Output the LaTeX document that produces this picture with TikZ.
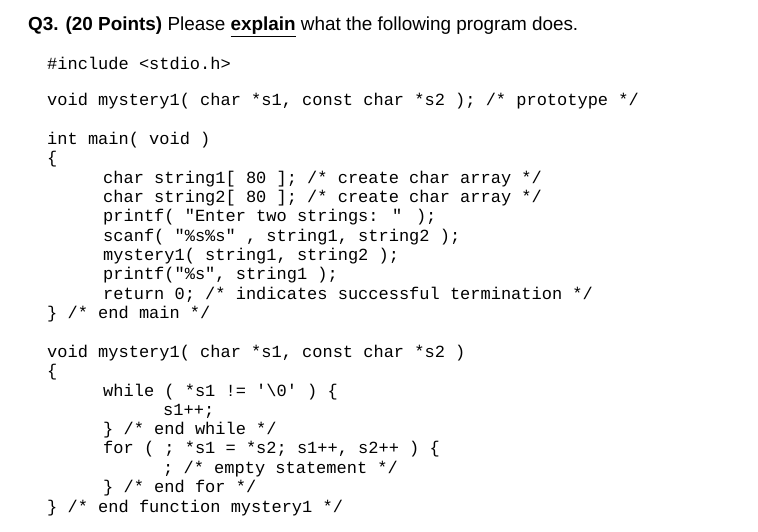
\documentclass[tikz,border=0pt]{standalone}
\usepackage{fontspec}
\setmainfont{Liberation Sans}
\newfontfamily\codefont{Liberation Mono}
\newcommand{\qq}{\textquotedbl}
\newcommand{\qs}{\textquotesingle}
\begin{document}
\begin{tikzpicture}[x=1pt,y=-1pt,
  code/.style={anchor=west,inner sep=0pt,font=\codefont\fontsize{17}{18}\selectfont},
  ttl/.style={anchor=west,inner sep=0pt,font=\fontsize{18.9}{22}\selectfont}]
\useasboundingbox[fill=white] (0,0) rectangle (758,532);
\node[ttl] (t) at (28,27) {\textbf{Q3. (20 Points)} Please \textbf{\underline{explain}} what the following program does.};
\node[code] (l1) at (47,63) {\#include <stdio.h>};
\node[code] (l2) at (47,101) {void mystery1( char *s1, const char *s2 ); /* prototype */};
\node[code] (l3) at (47,140) {int main( void )};
\node[code] (l4) at (47,159) {\{};
\node[code] (l5) at (103,179) {char string1[ 80 ]; /* create char array */};
\node[code] (l6) at (103,198) {char string2[ 80 ]; /* create char array */};
\node[code] (l7) at (103,217) {printf( \qq Enter two strings: \qq{} );};
\node[code] (l8) at (103,237) {scanf( \qq\%s\%s\qq{} , string1, string2 );};
\node[code] (l9) at (103,256) {mystery1( string1, string2 );};
\node[code] (l10) at (103,275) {printf(\qq\%s\qq, string1 );};
\node[code] (l11) at (103,295) {return 0; /* indicates successful termination */};
\node[code] (l12) at (47,314) {\} /* end main */};
\node[code] (l13) at (47,353) {void mystery1( char *s1, const char *s2 )};
\node[code] (l14) at (47,372) {\{};
\node[code] (l15) at (103,392) {while ( *s1 != \qs\textbackslash 0\qs{} ) \{};
\node[code] (l16) at (163,411) {s1++;};
\node[code] (l17) at (103,430) {\} /* end while */};
\node[code] (l18) at (103,449) {for ( ; *s1 = *s2; s1++, s2++ ) \{};
\node[code] (l19) at (163,469) {; /* empty statement */};
\node[code] (l20) at (103,488) {\} /* end for */};
\node[code] (l21) at (47,508) {\} /* end function mystery1 */};
\end{tikzpicture}
\end{document}
